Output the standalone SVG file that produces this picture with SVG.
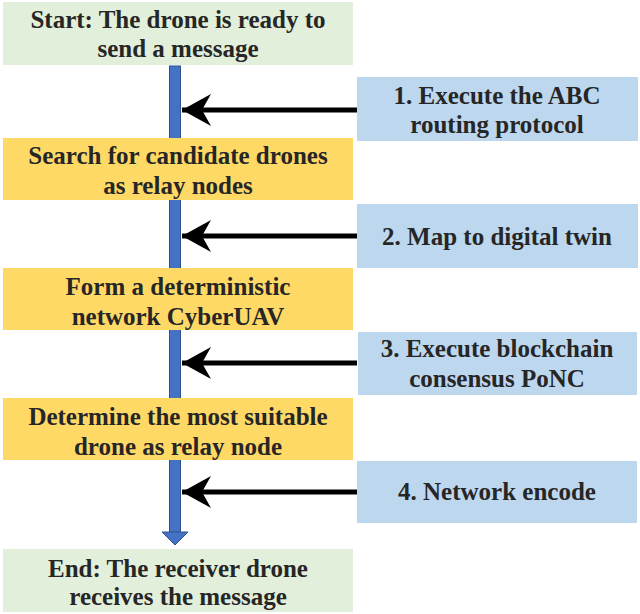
<svg xmlns="http://www.w3.org/2000/svg" width="640" height="614" viewBox="0 0 640 614">
<defs>
<style>
.t{font-family:"Liberation Serif","Times New Roman",serif;font-weight:bold;font-size:25px;fill:#262626;text-anchor:middle}
.g{fill:#e2efda}
.y{fill:#ffd966}
.b{fill:#bdd7ee}
.bar{fill:#4472c4;stroke:#2f528f;stroke-width:1}
.ar{stroke:#000;stroke-width:5;fill:none}
</style>
<marker id="ah" markerUnits="userSpaceOnUse" markerWidth="34" markerHeight="34" refX="32" refY="16" orient="auto" viewBox="0 0 34 32">
<path d="M32,16 L3,0 L12,16 L3,32 Z" fill="#000"/>
</marker>
</defs>
<g id="connectors">
<rect class="bar" x="169.5" y="66" width="11" height="467"/>
<path d="M162,532 L188,532 L175,545 Z" fill="#4472c4" stroke="#2f528f" stroke-width="1"/>
<line class="ar" x1="357" y1="110" x2="182" y2="110" marker-end="url(#ah)"/>
<line class="ar" x1="357" y1="236" x2="182" y2="236" marker-end="url(#ah)"/>
<line class="ar" x1="357" y1="363" x2="182" y2="363" marker-end="url(#ah)"/>
<line class="ar" x1="357" y1="492" x2="182" y2="492" marker-end="url(#ah)"/>
</g>
<g id="start"><rect class="g" x="3" y="2" width="350" height="63"/>
<text class="t" x="178" y="28">Start: The drone is ready to</text>
<text class="t" x="178" y="57">send a message</text></g>
<g id="search"><rect class="y" x="3" y="138" width="350" height="62"/>
<text class="t" x="178" y="164">Search for candidate drones</text>
<text class="t" x="178" y="194">as relay nodes</text></g>
<g id="form"><rect class="y" x="3" y="268" width="350" height="62"/>
<text class="t" x="178" y="295">Form a deterministic</text>
<text class="t" x="178" y="325">network CyberUAV</text></g>
<g id="determine"><rect class="y" x="3" y="398" width="350" height="62"/>
<text class="t" x="178" y="425">Determine the most suitable</text>
<text class="t" x="178" y="455">drone as relay node</text></g>
<g id="end"><rect class="g" x="3" y="549" width="350" height="63"/>
<text class="t" x="178" y="577">End: The receiver drone</text>
<text class="t" x="178" y="605">receives the message</text></g>
<g id="step1"><rect class="b" x="357" y="77" width="281" height="64"/>
<text class="t" x="497" y="104">1. Execute the ABC</text>
<text class="t" x="497" y="133">routing protocol</text></g>
<g id="step2"><rect class="b" x="357" y="204" width="281" height="64"/>
<text class="t" x="497" y="245">2. Map to digital twin</text></g>
<g id="step3"><rect class="b" x="358" y="332" width="279" height="63"/>
<text class="t" x="497" y="357">3. Execute blockchain</text>
<text class="t" x="497" y="387">consensus PoNC</text></g>
<g id="step4"><rect class="b" x="357" y="461" width="280" height="62"/>
<text class="t" x="497" y="500">4. Network encode</text></g>
</svg>
